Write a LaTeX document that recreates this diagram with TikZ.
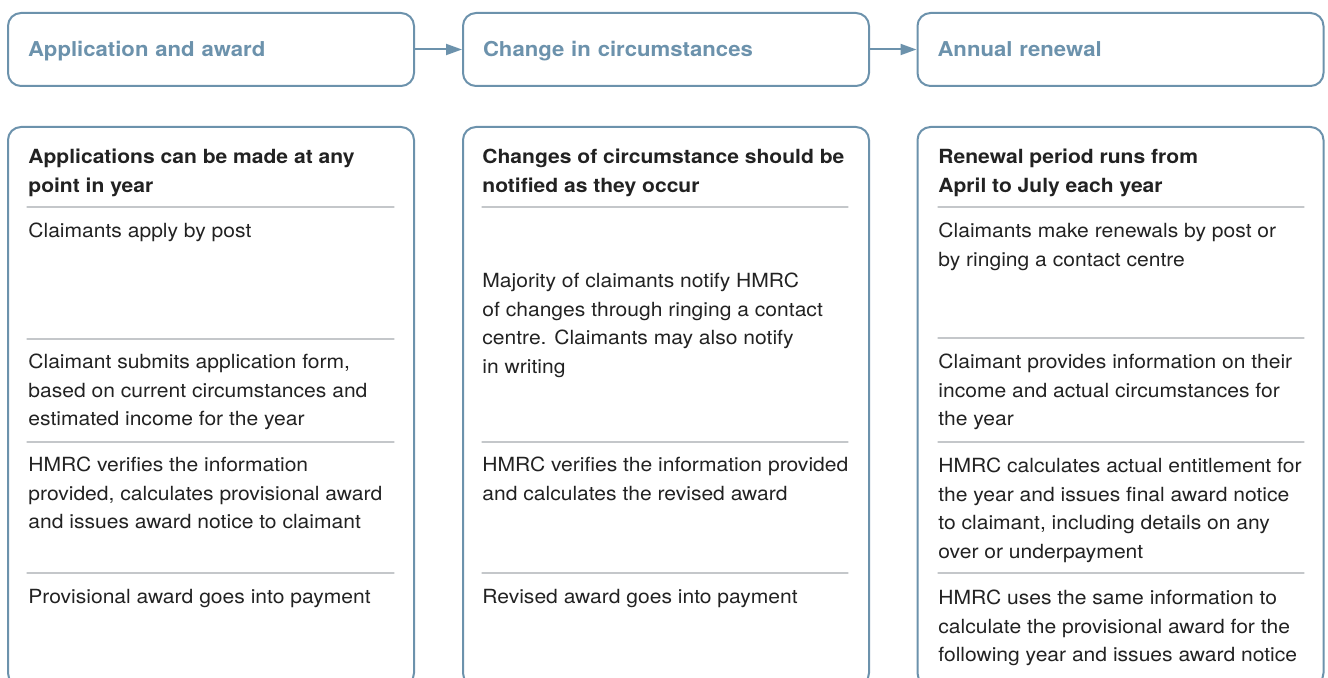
\documentclass[tikz,border=0pt]{standalone}
\usepackage{fontspec}
\setmainfont[FakeStretch=1.08]{TeX Gyre Heros}
\usetikzlibrary{arrows.meta}
\definecolor{hmrcblue}{RGB}{108,146,172}
\definecolor{rulegrey}{RGB}{196,199,202}
\definecolor{bodyink}{RGB}{34,34,34}

\begin{document}
\begin{tikzpicture}[x=0.5pt,y=-0.5pt,line cap=round,line join=round,
  stagebox/.style={draw=hmrcblue,line width=1pt,rounded corners=6.5pt,
    minimum width=203pt,minimum height=36.5pt,inner xsep=10pt,text width=183pt,
    align=left,text=hmrcblue,font=\fontsize{10.25}{12}\selectfont\bfseries,
    text height=7.5pt,text depth=0pt},
  phasebox/.style={draw=hmrcblue,line width=1pt,rounded corners=6.5pt,
    minimum width=203pt,minimum height=279.5pt,inner sep=0pt},
  flowarrow/.style={draw=hmrcblue,line width=1pt,-{Triangle[length=8pt,width=5.5pt]}},
  rulesep/.style={draw=rulegrey,line width=0.6pt},
  itemtext/.style={anchor=north west,inner sep=0pt,align=left,text=bodyink,
    font=\fontsize{9.75}{14.25}\selectfont},
  itemhead/.style={itemtext,font=\fontsize{9.75}{14.25}\selectfont\bfseries}]
\useasboundingbox (0,0) rectangle (1328,678);

% stage headers along the top
\node[stagebox] (stage1) at (211,49.5) {Application and award};
\node[stagebox] (stage2) at (666,49.5) {Change in circumstances};
\node[stagebox] (stage3) at (1120.5,49.5) {Annual renewal};
\draw[flowarrow] (stage1.east) -- (stage2.west);
\draw[flowarrow] (stage2.east) -- (stage3.west);

% one tall panel under each stage (runs off the bottom edge)
\node[phasebox] (panel1) at (211,406.5) {};
\node[phasebox] (panel2) at (666,406.5) {};
\node[phasebox] (panel3) at (1120.5,406.5) {};

% thin rules between the steps
\foreach \y in {207,339,442,573} \draw[rulesep] (27,\y) -- (394,\y);
\foreach \y in {207,442,573} \draw[rulesep] (482,\y) -- (848,\y);
\foreach \y in {207,338,442,573} \draw[rulesep] (938,\y) -- (1304,\y);

% application and award
\node[itemhead] (app0) at (28,149) {Applications can be made at any\\point in year};
\node[itemtext] (app1) at (28,223) {Claimants apply by post};
\node[itemtext] (app2) at (28,354) {Claimant submits application form,\\based on current circumstances and\\estimated income for the year};
\node[itemtext] (app3) at (28,457) {HMRC verifies the information\\provided, calculates provisional award\\and issues award notice to claimant};
\node[itemtext] (app4) at (28,589) {Provisional award goes into payment};

% change in circumstances
\node[itemhead] (chg0) at (482,149) {Changes of circumstance should be\\notified as they occur};
\node[itemtext] (chg1) at (482,273) {Majority of claimants notify HMRC\\of changes through ringing a contact\\centre. Claimants may also notify\\in writing};
\node[itemtext] (chg2) at (482,457) {HMRC verifies the information provided\\and calculates the revised award};
\node[itemtext] (chg3) at (482,589) {Revised award goes into payment};

% annual renewal
\node[itemhead] (ren0) at (938,149) {Renewal period runs from\\April to July each year};
\node[itemtext] (ren1) at (938,223) {Claimants make renewals by post or\\by ringing a contact centre};
\node[itemtext] (ren2) at (938,354) {Claimant provides information on their\\income and actual circumstances for\\the year};
\node[itemtext] (ren3) at (938,458) {HMRC calculates actual entitlement for\\the year and issues final award notice\\to claimant, including details on any\\over or underpayment};
\node[itemtext] (ren4) at (938,590) {HMRC uses the same information to\\calculate the provisional award for the\\following year and issues award notice};
\end{tikzpicture}
\end{document}
